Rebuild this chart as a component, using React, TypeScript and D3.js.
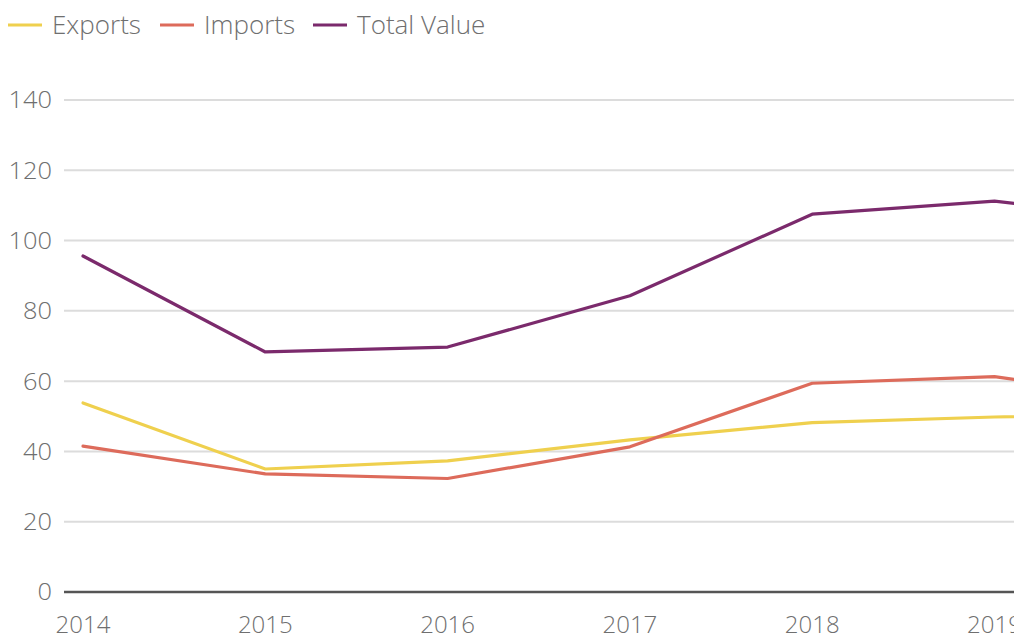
import React from "react";
import * as d3 from "d3";

const years = [2014, 2015, 2016, 2017, 2018, 2019, 2020];
const exportsVals = [53.8, 35.0, 37.3, 43.3, 48.2, 49.8, 51.0];
const importsVals = [41.5, 33.6, 32.3, 41.3, 59.4, 61.3, 54.0];
const totalVals = [95.6, 68.3, 69.7, 84.3, 107.5, 111.2, 105.5];
const yTicks = [0, 20, 40, 60, 80, 100, 120, 140];
const xTickYears = [2014, 2015, 2016, 2017, 2018, 2019];

const series = [
  { name: "Exports", values: exportsVals, color: "#efd04e" },
  { name: "Imports", values: importsVals, color: "#dd6b5b" },
  { name: "Total Value", values: totalVals, color: "#7b2a6c" },
];

const W = 1014;
const H = 639;

export default function App() {
  const x = d3.scaleLinear().domain([2014, 2020]).range([83, 83 + 182.3 * 6]);
  const y = d3.scaleLinear().domain([0, 140]).range([592, 100]);
  const line = d3
    .line<number>()
    .x((_, i) => x(years[i]))
    .y((d) => y(d));
  const font = "'Source Sans Pro', 'Open Sans', Lato, sans-serif";
  const legendX = [8, 160, 313];
  const textColor = "#6f6f6f";
  return (
    <svg
      width={W}
      height={H}
      style={{ position: "fixed", left: 0, top: 0, background: "#fff" }}
    >
      <rect width={W} height={H} fill="#fff" />
      {yTicks.map((t) => (
        <g key={t}>
          <line
            x1={64}
            x2={W}
            y1={y(t)}
            y2={y(t)}
            stroke={t === 0 ? "#555" : "#dcdcdc"}
            strokeWidth={t === 0 ? 2.5 : 2}
          />
          <text
            x={52}
            y={y(t)}
            dy="0.35em"
            textAnchor="end"
            fill={textColor}
            fontFamily={font}
            fontWeight={300}
            fontSize={24}
            textLength={String(t).length * 14.5}
            lengthAdjust="spacingAndGlyphs"
          >
            {t}
          </text>
        </g>
      ))}
      {xTickYears.map((yr) => (
        <text
          key={yr}
          x={x(yr)}
          y={625}
          dy="0.35em"
          textAnchor="middle"
          fill={textColor}
          fontFamily={font}
          fontWeight={300}
          fontSize={24}
        >
          {yr}
        </text>
      ))}
      {series.map((s) => (
        <path
          key={s.name}
          d={line(s.values) || ""}
          fill="none"
          stroke={s.color}
          strokeWidth={3.2}
          strokeLinejoin="round"
          strokeLinecap="round"
        />
      ))}
      {series.map((s, i) => (
        <g key={s.name} transform={`translate(${legendX[i]},25)`}>
          <line x1={0} x2={34} y1={0} y2={0} stroke={s.color} strokeWidth={3} />
          <text
            x={44}
            y={0}
            dy="0.35em"
            fill={textColor}
            fontFamily={font}
            fontWeight={300}
            fontSize={26}
          >
            {s.name}
          </text>
        </g>
      ))}
    </svg>
  );
}
